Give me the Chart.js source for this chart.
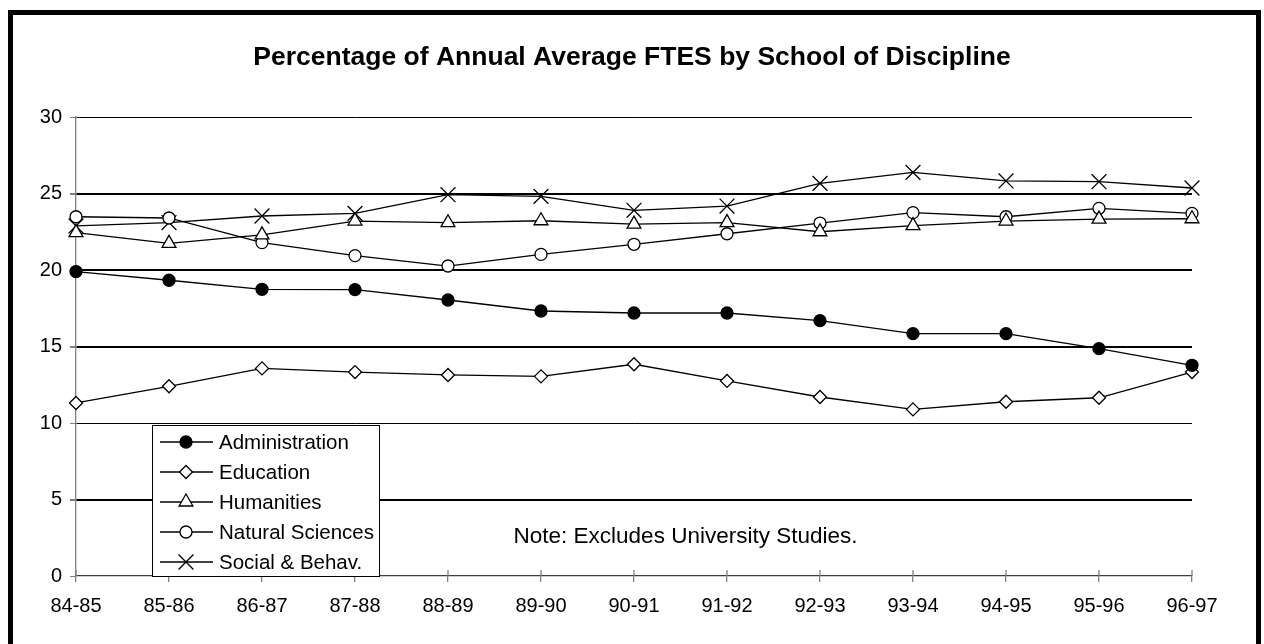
<!DOCTYPE html>
<html lang="en">
<head>
  <meta charset="UTF-8" />
  <title>Percentage of Annual Average FTES by School of Discipline</title>
  <script src="https://cdn.jsdelivr.net/npm/chart.js"></script>
  <style>
    body { margin: 0; background: #fff; overflow: hidden; font-family: Arial, 'Liberation Sans', sans-serif; }
    .wrap { position: relative; width: 1264px; height: 644px; }
    .frame {
      position: absolute; left: 8px; top: 10px; width: 1253px; height: 700px;
      box-sizing: border-box; border: 5px solid #000; border-bottom: none;
    }
    canvas { position: absolute; left: 0; top: 0; }
  </style>
</head>
<body>
  <div class="wrap">
    <div class="frame"></div>
    <canvas id="ftesChart" width="1264" height="644"></canvas>
  </div>

  <script>
    const years = ['84-85', '85-86', '86-87', '87-88', '88-89', '89-90', '90-91',
                   '91-92', '92-93', '93-94', '94-95', '95-96', '96-97'];
    const administration = [19.9, 19.33, 18.74, 18.72, 18.04, 17.32, 17.19, 17.19, 16.69, 15.84, 15.84, 14.86, 13.77];
    const education      = [11.31, 12.40, 13.57, 13.33, 13.14, 13.05, 13.84, 12.75, 11.70, 10.89, 11.39, 11.65, 13.33];
    const humanities     = [22.44, 21.74, 22.30, 23.20, 23.09, 23.22, 23.00, 23.10, 22.50, 22.90, 23.20, 23.33, 23.35];
    const naturalSci     = [23.48, 23.40, 21.79, 20.94, 20.26, 21.02, 21.68, 22.37, 23.07, 23.75, 23.48, 24.03, 23.70];
    const socialBehav    = [22.88, 23.10, 23.53, 23.70, 24.92, 24.81, 23.90, 24.18, 25.66, 26.38, 25.82, 25.77, 25.36];
    const titleText = 'Percentage of Annual Average FTES by School of Discipline';
    const noteText = 'Note: Excludes University Studies.';

    const FONT = "Arial, 'Liberation Sans', sans-serif";

    function series(label, data, style, radius, fill) {
      return {
        label: label,
        data: data,
        borderColor: '#000',
        borderWidth: 1.3,
        pointStyle: style,
        pointRadius: radius,
        pointHoverRadius: radius,
        pointBackgroundColor: fill,
        pointBorderColor: '#000',
        pointBorderWidth: 1.3,
        tension: 0
      };
    }

    // title centred on the whole page, legend box + note inside the plot
    const extras = {
      id: 'extras',
      afterDraw(chart) {
        const ctx = chart.ctx;
        ctx.save();
        ctx.fillStyle = '#000';
        ctx.font = 'bold 26.5px ' + FONT;
        ctx.textAlign = 'center';
        ctx.textBaseline = 'middle';
        ctx.fillText(titleText, 632, 58);

        ctx.fillStyle = '#fff';
        ctx.strokeStyle = '#000';
        ctx.lineWidth = 1;
        ctx.fillRect(152, 425, 227, 151);
        ctx.strokeRect(152.5, 425.5, 227, 151);

        chart.data.datasets.forEach((ds, i) => {
          const y = 442 + i * 30;
          ctx.strokeStyle = '#000';
          ctx.lineWidth = 1.3;
          ctx.beginPath();
          ctx.moveTo(160, y);
          ctx.lineTo(213, y);
          ctx.stroke();
          ctx.fillStyle = ds.pointBackgroundColor;
          Chart.helpers.drawPoint(ctx, {
            pointStyle: ds.pointStyle, radius: ds.pointRadius,
            rotation: 0, borderWidth: ds.pointBorderWidth
          }, 186, y);
          ctx.fillStyle = '#000';
          ctx.font = '20.5px ' + FONT;
          ctx.textAlign = 'left';
          ctx.textBaseline = 'middle';
          ctx.fillText(ds.label, 219, y + 1);
        });

        ctx.font = '22.5px ' + FONT;
        ctx.fillStyle = '#000';
        ctx.textAlign = 'center';
        ctx.textBaseline = 'middle';
        ctx.fillText(noteText, 685.5, 537);
        ctx.restore();
      }
    };

    // x tick marks cross the axis line
    const crossTicks = {
      id: 'crossTicks',
      beforeDatasetsDraw(chart) {
        const ctx = chart.ctx;
        const xs = chart.scales.x;
        const bottom = chart.chartArea.bottom;
        ctx.save();
        ctx.strokeStyle = '#808080';
        ctx.lineWidth = 1.3;
        xs.ticks.forEach((t, i) => {
          const x = xs.getPixelForTick(i);
          ctx.beginPath();
          ctx.moveTo(x, bottom - 6);
          ctx.lineTo(x, bottom);
          ctx.stroke();
        });
        ctx.restore();
      }
    };

    new Chart(document.getElementById('ftesChart'), {
      type: 'line',
      data: {
        labels: years,
        datasets: [
          series('Administration', administration, 'circle', 6, '#000'),
          series('Education', education, 'rectRot', 6.5, '#fff'),
          series('Humanities', humanities, 'triangle', 8, '#fff'),
          series('Natural Sciences', naturalSci, 'circle', 6, '#fff'),
          series('Social & Behav.', socialBehav, 'crossRot', 10.5, '#fff')
        ]
      },
      options: {
        responsive: false,
        animation: false,
        layout: { padding: { left: 0, right: 72, top: 117, bottom: 0 } },
        plugins: {
          legend: { display: false },
          tooltip: { enabled: false },
          title: { display: false }
        },
        scales: {
          x: {
            offset: false,
            afterFit(scale) { scale.height = 68; },
            grid: { drawOnChartArea: false, drawTicks: true, tickLength: 6, color: '#808080', lineWidth: 1.3 },
            border: { color: '#404040', width: 1.3 },
            ticks: { color: '#000', font: { family: FONT, size: 20 }, padding: 12, maxRotation: 0, autoSkip: false }
          },
          y: {
            min: 0,
            max: 30,
            afterFit(scale) { scale.width = 76; },
            grid: {
              color: ctx => ctx.tick && ctx.tick.value === 0 ? 'rgba(0,0,0,0)' : '#000',
              lineWidth: ctx => ctx.tick && [5, 15, 20, 25].includes(ctx.tick.value) ? 2 : 1,
              tickColor: '#808080',
              tickLength: 6,
              drawTicks: true
            },
            border: { color: '#808080', width: 1.3 },
            ticks: { stepSize: 5, color: '#000', font: { family: FONT, size: 20 }, padding: 8 }
          }
        }
      },
      plugins: [crossTicks, extras]
    });
  </script>
</body>
</html>
